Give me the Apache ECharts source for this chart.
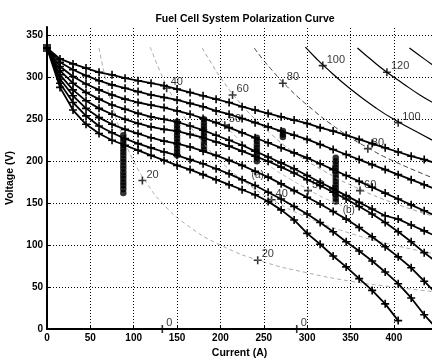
<!DOCTYPE html>
<html>
<head>
<meta charset="utf-8">
<script src="https://cdn.jsdelivr.net/npm/echarts@6/dist/echarts.min.js"></script>
<style>
html,body{margin:0;padding:0;background:#fff}
#chart{width:432px;height:361px}
</style>
</head>
<body>
<div id="chart"></div>
<script>
// current sample points (A)
var currents = [0,15,30,45,60,75,90,105,120,135,150,165,180,195,210,225,240,255,270,285,300,315,330,345,360,375,390,405,420,435,450];

// polarization curves, voltage (V) at each current, top to bottom
var curve1 = [335,322,316,311,306,303,299,296,293,290,286,282,278,274,270,265,261,257,253,249,245,240,236,231,226,221,216,211,206,202,197];
var curve2 = [335,318,309,302,296,291,287,283,279,276,273,269,265,260,256,251,246,241,236,231,226,220,214,208,202,196,190,184,178,172,166];
var curve3 = [335,313,301,292,285,279,274,270,267,264,260,256,251,246,240,234,228,222,216,210,204,197,190,183,176,169,162,155,148,141,134];
var curve4 = [335,308,293,282,274,267,262,257,253,250,247,242,237,231,225,219,212,205,198,191,183,175,167,159,151,143,135,131,124,117,110];
var curve5 = [335,303,285,272,263,256,250,245,241,238,236,232,228,223,218,212,206,200,193,186,178,171,163,155,146,137,127,116,104,91,79];
var curve6 = [335,298,278,263,252,244,238,233,228,224,221,217,212,207,201,195,188,181,173,165,157,149,140,131,121,110,98,86,73,57,41];
var curve7 = [335,293,270,254,242,234,227,221,216,211,207,202,197,191,185,178,171,163,155,146,137,127,116,104,93,81,68,54,37,17,0];
var curve8 = [335,288,261,244,233,225,219,213,207,201,195,190,184,178,172,166,160,152,142,130,114,101,87,74,60,46,30,10,null,null,null];

// power contours (kW), points [current, voltage]
var contour20 = [[60,335],[67,300],[75,267],[86,233],[100,200],[115,174],[133,150],[160,125],[200,100],[250,80],[300,67],[350,57],[400,50],[450,44]];
var contour40 = [[119,336],[130,308],[140,286],[160,250],[180,222],[200,200],[230,174],[260,154],[300,133],[350,114],[400,100],[450,89]];
var contour50 = [[190,263],[205,244],[220,227],[240,208],[260,192],[280,179],[300,167],[320,156],[340,147]];
var contour60 = [[179,335],[190,316],[200,300],[215,279],[240,250],[260,231],[280,214],[320,188],[360,167],[400,150],[450,133]];
var contour80 = [[239,335],[250,320],[260,308],[272,294],[300,267],[340,235],[370,216],[400,200],[450,178]];
var contour100 = [[298,336],[310,323],[320,313],[350,286],[380,263],[405,247],[430,233],[450,222]];
var contour120 = [[358,335],[375,320],[392,306],[410,293],[430,279],[450,267]];
var contour140 = [[418,335],[435,322],[450,311]];

// contour label positions [current, voltage, text]
var contourLabels = [[110,177,'20'],[243,82,'20'],[138,287,'40'],[259,154,'40'],[205,243,'50'],[301,165,'50'],
  [214,279,'60'],[361,165,'60'],[272,293,'80'],[370,215,'80'],[318,314,'100'],[405,246,'100'],[392,306,'120'],
  [133,0,'0'],[288,0,'0']];

// measured operating points (black clusters)
var pointsA = [[88,231],[88,227],[88,223],[88,219],[88,215],[88,211],[88,207],[88,203],[88,199],[88,195],[88,191],[88,187],[88,183],[88,179],[88,175],[88,171],[88,167],[88,162]];
var pointsB = [[150,247],[150,243],[150,239],[150,235],[150,231],[150,227],[150,223],[150,219],[150,215],[150,211],[150,207]];
var pointsC = [[181,250],[181,246],[181,242],[181,238],[181,234],[181,230],[181,226],[181,222],[181,218],[181,214]];
var pointsD = [[242,228],[242,224],[242,220],[242,216],[242,212],[242,208],[242,204],[242,200]];
var pointsE = [[272,236],[272,232],[272,229]];
var pointsF = [[333,204],[333,200],[333,196],[333,192],[333,188],[333,184],[333,180],[333,176],[333,172],[333,168],[333,164],[333,160],[333,156],[333,152]];
var noteLabels = [[243,183,'(a)'],[348,142,'(b)']];

var xTicks = [50,100,150,200,250,300,350,400];
var yTicks = [50,100,150,200,250,300,350];

var plus = 'path://M4,0H6V4H10V6H6V10H4V6H0V4H4Z';
var fontFam = 'Liberation Sans, Arial, sans-serif';

function pairs(vals) {
    var out = [];
    for (var i = 0; i < vals.length; i++) out.push([currents[i], vals[i]]);
    return out;
}

var series = [];
var gridLines = [];
xTicks.forEach(function (v) { gridLines.push({xAxis: v}); });
yTicks.forEach(function (v) { gridLines.push({yAxis: v}); });

// grid as dotted lines
series.push({
    type: 'line', data: [], silent: true,
    markLine: {
        silent: true, symbol: ['none', 'none'], label: {show: false},
        lineStyle: {color: '#000', type: [1, 2], width: 1},
        data: gridLines
    }
});

function contour(data, color, type, width) {
    series.push({
        type: 'line', data: data, smooth: true, showSymbol: false, silent: true,
        lineStyle: {color: color, type: type, width: width}
    });
}
contour(contour20, '#999', [4, 3], 0.8);
contour(contour40, '#999', [4, 3], 0.8);
contour(contour50, '#aaa', [4, 3], 0.8);
contour(contour60, '#888', [4, 3], 0.8);
contour(contour80, '#444', [5, 3], 1);
contour(contour100, '#000', 'solid', 1.2);
contour(contour120, '#000', 'solid', 1.2);
contour(contour140, '#000', 'solid', 1.2);

[curve1, curve2, curve3, curve4, curve5, curve6, curve7, curve8].forEach(function (c) {
    series.push({
        type: 'line', data: pairs(c), symbol: plus, symbolSize: 8, showSymbol: true,
        lineStyle: {color: '#000', width: 1.8},
        itemStyle: {color: '#000'}
    });
});

[pointsA, pointsB, pointsC, pointsD, pointsE, pointsF].forEach(function (p) {
    series.push({
        type: 'scatter', data: p, symbol: 'circle', symbolSize: 6.5,
        itemStyle: {color: '#000'}
    });
});

// start point
series.push({type: 'scatter', data: [[0, 335]], symbol: 'rect', symbolSize: 8, itemStyle: {color: '#000'}});

// contour labels
series.push({
    type: 'scatter', symbol: plus, symbolSize: 8, itemStyle: {color: '#000'},
    data: contourLabels.map(function (d) { return {value: [d[0], d[1]], name: d[2]}; }),
    label: {
        show: true, position: 'right', offset: [-5, -6], formatter: '{b}',
        color: '#000', fontSize: 11, fontFamily: fontFam
    }
});

series.push({
    type: 'scatter', symbolSize: 0,
    data: noteLabels.map(function (d) { return {value: [d[0], d[1]], name: d[2]}; }),
    label: {show: true, position: 'inside', formatter: '{b}', color: '#000', fontSize: 10, fontFamily: fontFam}
});

var chart = echarts.init(document.getElementById('chart'), null, {renderer: 'canvas'});
chart.setOption({
    animation: false,
    backgroundColor: '#fff',
    title: {
        text: 'Fuel Cell System Polarization Curve',
        left: 240, top: 9, textAlign: 'center',
        textStyle: {fontSize: 10.5, fontWeight: 'bold', fontFamily: fontFam, color: '#000'}
    },
    grid: {left: 47, right: 0, top: 27, bottom: 32, containLabel: false, outerBoundsMode: 'none'},
    xAxis: {
        type: 'value', min: 0, max: 444, interval: 50,
        name: 'Current (A)', nameLocation: 'middle', nameGap: 18,
        nameTextStyle: {fontSize: 10.5, fontWeight: 'bold', fontFamily: fontFam, color: '#000'},
        axisLine: {lineStyle: {color: '#000', width: 2}},
        axisTick: {inside: true, length: 3, lineStyle: {color: '#000'}},
        axisLabel: {fontSize: 10, fontWeight: 'bold', fontFamily: fontFam, color: '#000', margin: 4, showMaxLabel: false},
        splitLine: {show: false}
    },
    yAxis: {
        type: 'value', min: 0, max: 360, interval: 50,
        name: 'Voltage (V)', nameLocation: 'middle', nameGap: 27,
        nameTextStyle: {fontSize: 10.5, fontWeight: 'bold', fontFamily: fontFam, color: '#000'},
        axisLine: {show: true, lineStyle: {color: '#000', width: 2}},
        axisTick: {show: true, inside: true, length: 3, lineStyle: {color: '#000'}},
        axisLabel: {fontSize: 10, fontWeight: 'bold', fontFamily: fontFam, color: '#000', margin: 4, showMaxLabel: false},
        splitLine: {show: false}
    },
    series: series
});
</script>
</body>
</html>
